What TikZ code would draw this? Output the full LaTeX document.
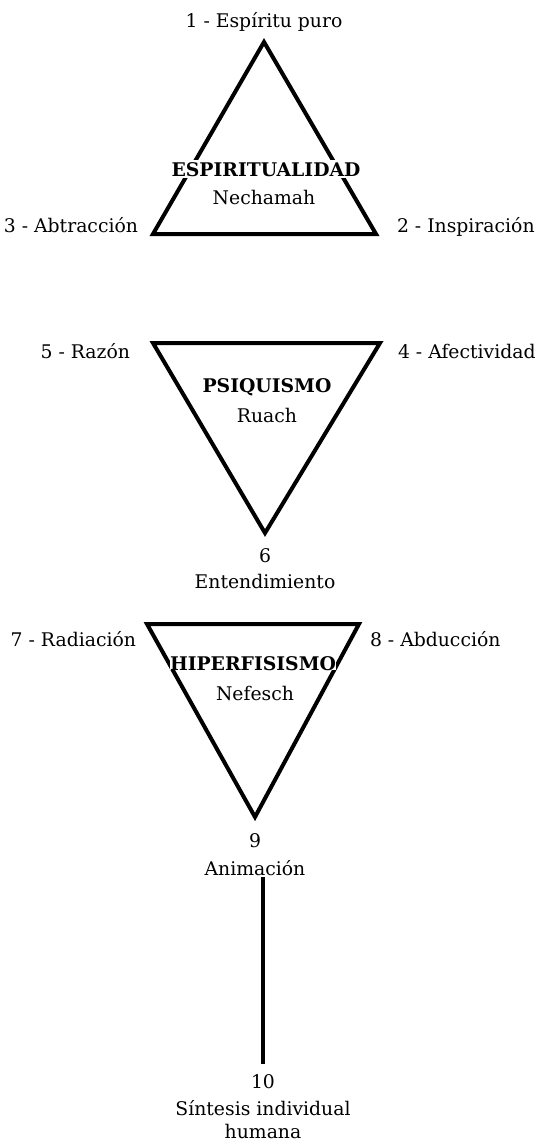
\documentclass[tikz,border=0pt]{standalone}
\usepackage{fontspec}
\setmainfont{DejaVu Serif}
\usetikzlibrary{calc}

\begin{document}
\begin{tikzpicture}[x=0.5pt, y=-0.5pt, line width=2pt, line join=miter,
  lbl/.style={font=\fontsize{9.4}{11}\selectfont, inner sep=1pt},
  ttl/.style={font=\fontsize{9.4}{11}\selectfont\bfseries, fill=white, inner sep=1pt}]
  % page frame (reference proportions)
  \useasboundingbox (0,0) rectangle (541,1142);

  % Triangle vertices (manual, in reference pixels)
  \coordinate (t1top) at (264,42);
  \coordinate (t1l)   at (153,234);
  \coordinate (t1r)   at (376,234);
  \coordinate (t2l)   at (153,343);
  \coordinate (t2r)   at (380,343);
  \coordinate (t2bot) at (265,533);
  \coordinate (t3l)   at (147,624);
  \coordinate (t3r)   at (359,624);
  \coordinate (t3bot) at (255,817);

  % Triangles
  \draw (t1top) -- (t1l) -- (t1r) -- cycle;
  \draw (t2l) -- (t2r) -- (t2bot) -- cycle;
  \draw (t3l) -- (t3r) -- (t3bot) -- cycle;

  % Espiritualidad
  \node[lbl, anchor=base] (p1) at (264,27) {1 - Espíritu puro};
  \node[lbl, anchor=base east] (p3) at (142,232) {3 - Abtracción};
  \node[lbl, anchor=base west] (p2) at (393,232) {2 - Inspiración};
  \node[ttl, anchor=base] (espi) at (266,176) {ESPIRITUALIDAD};
  \node[lbl, anchor=base] (nech) at (264,204) {Nechamah};

  % Psiquismo
  \node[lbl, anchor=base east] (p5) at (134,358) {5 - Razón};
  \node[lbl, anchor=base west] (p4) at (394,358) {4 - Afectividad};
  \node[ttl, fill=none, anchor=base] (psiq) at (267,392) {PSIQUISMO};
  \node[lbl, anchor=base] (ruach) at (267,422) {Ruach};
  \node[lbl, anchor=base] (p6) at (265,562) {6};
  \node[lbl, anchor=base] (ent) at (265,588) {Entendimiento};

  % Hiperfisismo
  \node[lbl, anchor=base east] (p7) at (140,646) {7 - Radiación};
  \node[lbl, anchor=base west] (p8) at (366,646) {8 - Abducción};
  \node[ttl, inner sep=0pt, anchor=base] (hiper) at (253,670) {HIPERFISISMO};
  \node[lbl, anchor=base] (nef) at (255,700) {Nefesch};
  \node[lbl, anchor=base] (p9) at (255,847) {9};
  \node[lbl, anchor=base] (anim) at (255,875) {Animación};

  % Sintesis
  \node[lbl, anchor=base] (p10) at (263,1088) {10};
  \node[lbl, anchor=base] (sint) at (263,1115) {Síntesis individual};
  \node[lbl, anchor=base] (hum) at (263,1138) {humana};

  % stem down to 10
  \draw[shorten <=-1pt, shorten >=3pt] (anim.south -| p10.north) -- (p10.north);
\end{tikzpicture}
\end{document}
